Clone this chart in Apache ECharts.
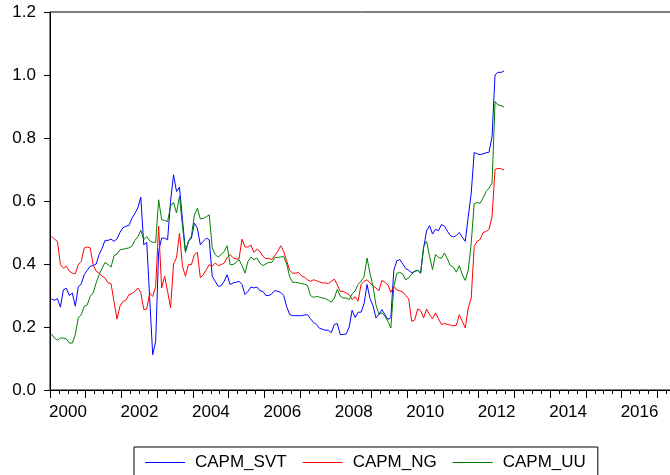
<!DOCTYPE html>
<html>
<head>
<meta charset="utf-8">
<script src="https://cdn.jsdelivr.net/npm/echarts@6/dist/echarts.min.js"></script>
<style>
  html, body { margin: 0; padding: 0; background: #fff; }
  #chart { width: 670px; height: 475px; }
</style>
</head>
<body>
<div id="chart"></div>
<script>
// Monthly observations, 2000M01 .. 2012M09
const startYear = 2000;

const seriesNames = ['CAPM_SVT', 'CAPM_NG', 'CAPM_UU'];
const seriesColors = ['#0000ff', '#ff0000', '#008000'];

const capmSVT = [
  0.289, 0.285, 0.290, 0.263, 0.318, 0.323, 0.300, 0.308, 0.266, 0.327,
  0.337, 0.366, 0.380, 0.393, 0.395, 0.400, 0.430, 0.450, 0.475, 0.475,
  0.479, 0.472, 0.480, 0.500, 0.515, 0.520, 0.522, 0.545, 0.560, 0.578,
  0.612, 0.461, 0.469, 0.290, 0.112, 0.155, 0.440, 0.482, 0.482, 0.477,
  0.599, 0.683, 0.630, 0.644, 0.541, 0.440, 0.472, 0.482, 0.530, 0.514,
  0.461, 0.472, 0.482, 0.477, 0.361, 0.345, 0.329, 0.331, 0.345, 0.366,
  0.335, 0.340, 0.342, 0.345, 0.335, 0.303, 0.313, 0.327, 0.324, 0.327,
  0.315, 0.313, 0.300, 0.300, 0.305, 0.316, 0.313, 0.310, 0.300, 0.265,
  0.240, 0.236, 0.236, 0.236, 0.236, 0.238, 0.239, 0.226, 0.215, 0.208,
  0.196, 0.193, 0.190, 0.190, 0.182, 0.208, 0.211, 0.176, 0.176, 0.178,
  0.200, 0.253, 0.230, 0.247, 0.247, 0.274, 0.335, 0.290, 0.268, 0.229,
  0.240, 0.255, 0.240, 0.224, 0.230, 0.380, 0.410, 0.414, 0.400, 0.386,
  0.380, 0.372, 0.377, 0.380, 0.371, 0.450, 0.505, 0.522, 0.495, 0.510,
  0.506, 0.525, 0.520, 0.504, 0.490, 0.486, 0.490, 0.500, 0.485, 0.472,
  0.550, 0.625, 0.754, 0.750, 0.747, 0.750, 0.753, 0.755, 0.805, 1.000,
  1.009, 1.008, 1.013
];

const capmNG = [
  0.488, 0.479, 0.472, 0.398, 0.387, 0.393, 0.377, 0.371, 0.369, 0.398,
  0.408, 0.451, 0.454, 0.451, 0.398, 0.377, 0.371, 0.361, 0.356, 0.340,
  0.338, 0.281, 0.225, 0.266, 0.281, 0.285, 0.303, 0.306, 0.313, 0.324,
  0.310, 0.255, 0.257, 0.308, 0.297, 0.329, 0.520, 0.324, 0.361, 0.313,
  0.261, 0.400, 0.420, 0.498, 0.393, 0.361, 0.398, 0.398, 0.430, 0.437,
  0.356, 0.366, 0.382, 0.398, 0.393, 0.403, 0.395, 0.398, 0.403, 0.420,
  0.430, 0.420, 0.416, 0.416, 0.479, 0.454, 0.454, 0.460, 0.437, 0.447,
  0.440, 0.425, 0.417, 0.418, 0.414, 0.426, 0.440, 0.458, 0.440, 0.410,
  0.380, 0.371, 0.371, 0.373, 0.362, 0.358, 0.350, 0.345, 0.350, 0.347,
  0.343, 0.340, 0.340, 0.338, 0.345, 0.352, 0.334, 0.313, 0.313, 0.308,
  0.303, 0.287, 0.296, 0.282, 0.335, 0.345, 0.350, 0.340, 0.330, 0.324,
  0.315, 0.348, 0.342, 0.334, 0.310, 0.329, 0.318, 0.315, 0.311, 0.300,
  0.289, 0.218, 0.222, 0.257, 0.253, 0.229, 0.257, 0.239, 0.226, 0.245,
  0.226, 0.208, 0.211, 0.208, 0.206, 0.204, 0.205, 0.239, 0.218, 0.197,
  0.260, 0.292, 0.456, 0.472, 0.478, 0.500, 0.503, 0.510, 0.551, 0.700,
  0.704, 0.702, 0.699
];

const capmUU = [
  0.178, 0.165, 0.158, 0.165, 0.165, 0.162, 0.149, 0.149, 0.176, 0.229,
  0.239, 0.266, 0.270, 0.297, 0.308, 0.340, 0.366, 0.387, 0.405, 0.398,
  0.390, 0.426, 0.432, 0.445, 0.447, 0.449, 0.451, 0.456, 0.475, 0.486,
  0.507, 0.477, 0.487, 0.474, 0.469, 0.469, 0.604, 0.541, 0.538, 0.535,
  0.583, 0.596, 0.562, 0.615, 0.520, 0.437, 0.472, 0.488, 0.556, 0.577,
  0.543, 0.545, 0.550, 0.556, 0.451, 0.430, 0.422, 0.430, 0.440, 0.458,
  0.398, 0.398, 0.405, 0.414, 0.395, 0.371, 0.408, 0.422, 0.414, 0.419,
  0.403, 0.395, 0.400, 0.405, 0.405, 0.420, 0.421, 0.422, 0.424, 0.400,
  0.360, 0.342, 0.342, 0.340, 0.338, 0.336, 0.332, 0.300, 0.294, 0.297,
  0.295, 0.292, 0.290, 0.285, 0.279, 0.292, 0.319, 0.298, 0.292, 0.292,
  0.287, 0.305, 0.315, 0.335, 0.345, 0.360, 0.419, 0.370, 0.330, 0.270,
  0.240, 0.245, 0.235, 0.218, 0.197, 0.329, 0.370, 0.374, 0.368, 0.350,
  0.356, 0.368, 0.376, 0.380, 0.371, 0.456, 0.472, 0.424, 0.382, 0.430,
  0.421, 0.418, 0.435, 0.416, 0.395, 0.390, 0.374, 0.395, 0.366, 0.348,
  0.380, 0.467, 0.591, 0.595, 0.593, 0.610, 0.630, 0.641, 0.657, 0.916,
  0.905, 0.903, 0.898
];

const yTicks = [0.0, 0.2, 0.4, 0.6, 0.8, 1.0, 1.2];
const xRange = [2000, 2018];

// each monthly observation sits in the middle of its month
function monthPos(i) { return startYear + (i + 0.5) / 12; }
function toPairs(values) { return values.map((v, i) => [monthPos(i), v]); }

const fontFamily = '"Liberation Sans", Arial, Helvetica, sans-serif';
const chart = echarts.init(document.getElementById('chart'), null, { renderer: 'canvas' });

const allSeries = [capmSVT, capmNG, capmUU].map((vals, k) => ({
  name: seriesNames[k],
  type: 'line',
  data: toPairs(vals),
  symbol: 'none',
  lineStyle: { color: seriesColors[k], width: 1 },
  itemStyle: { color: seriesColors[k] },
  animation: false
}));

chart.setOption({
  animation: false,
  // plot frame runs on past the right edge of the page
  grid: {
    left: 50, top: 12, width: 643, height: 378,
    outerBoundsMode: 'none',
    containLabel: false,
    show: true, borderColor: '#000', borderWidth: 1, backgroundColor: 'transparent'
  },
  xAxis: {
    type: 'value',
    min: xRange[0], max: xRange[1], interval: 1,
    splitLine: { show: false },
    axisLine: { show: true, onZero: false, lineStyle: { color: '#000', width: 1 } },
    axisTick: { show: true, inside: false, length: 8, lineStyle: { color: '#000' } },
    minorTick: { show: true, splitNumber: 4, length: 4, lineStyle: { color: '#000' } },
    axisLabel: {
      show: true, margin: 14, color: '#000', fontSize: 17, fontFamily: fontFamily,
      showMinLabel: true, showMaxLabel: true,
      formatter: v => (v % 2 === 0 && v < xRange[1]) ? String(v) : '',
      padding: [0, 0, 0, 36]
    }
  },
  yAxis: {
    type: 'value',
    min: yTicks[0], max: yTicks[yTicks.length - 1], interval: 0.2,
    splitLine: { show: false },
    axisLine: { show: true, lineStyle: { color: '#000', width: 1 } },
    axisTick: { show: true, inside: false, length: 6, lineStyle: { color: '#000' } },
    axisLabel: {
      margin: 14, color: '#000', fontSize: 17, fontFamily: fontFamily,
      formatter: v => v.toFixed(1)
    }
  },
  legend: {
    left: 134, top: 447,
    orient: 'horizontal',
    data: seriesNames,
    icon: 'rect',
    itemWidth: 40, itemHeight: 1, itemGap: 16,
    borderColor: '#000', borderWidth: 1, borderRadius: 0,
    padding: [7, 12, 12, 11],
    textStyle: { color: '#000', fontSize: 17, fontFamily: fontFamily, padding: [0, 0, 0, 5] }
  },
  series: allSeries
});
</script>
</body>
</html>
